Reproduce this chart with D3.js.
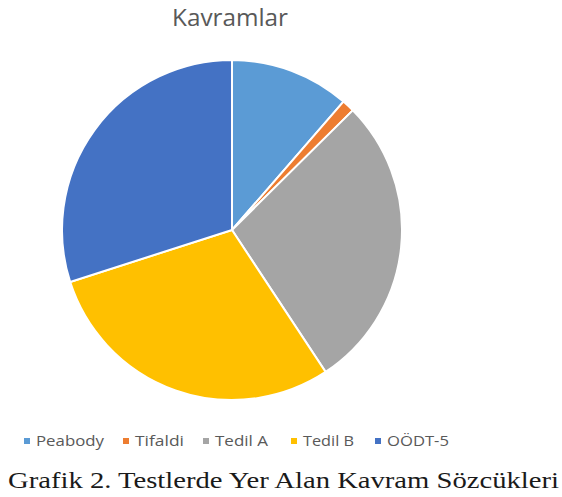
<!DOCTYPE html>
<html lang="tr">
<head>
  <meta charset="UTF-8">
  <title>Kavramlar</title>
  <script src="https://cdn.jsdelivr.net/npm/d3@7"></script>
  <style>
    body { margin: 0; background: #fff; }
  </style>
</head>
<body>
<script>
  const categories = ['Peabody', 'Tifaldi', 'Tedil A', 'Tedil B', 'OÖDT-5']
  const values = [19, 2, 47, 49, 50]
  const colors = ['#5b9bd5', '#ed7d31', '#a5a5a5', '#ffc000', '#4472c4']

  const width = 562
  const height = 497
  const cx = 232, cy = 230, radius = 170

  const color = d3.scaleOrdinal().domain(categories).range(colors)

  const pie = d3.pie().sort(null).value(d => d.value)
  const arcs = pie(categories.map((name, i) => ({name, value: values[i]})))
  const arc = d3.arc().innerRadius(0).outerRadius(radius)

  const svg = d3.select('body').append('svg')
    .attr('width', width)
    .attr('height', height)

  svg.append('text')
    .attr('x', 172)
    .attr('y', 26)
    .attr('font-family', 'Open Sans, sans-serif')
    .attr('font-size', 24)
    .attr('fill', '#595959')
    .attr('textLength', 116)
    .attr('lengthAdjust', 'spacingAndGlyphs')
    .text('Kavramlar')

  svg.append('g')
    .attr('transform', `translate(${cx},${cy})`)
    .attr('stroke', 'white')
    .attr('stroke-width', 2)
    .selectAll('path')
    .data(arcs)
    .join('path')
    .attr('fill', d => color(d.data.name))
    .attr('d', arc)

  // legend: square left edge, text width
  const legendX = [24, 123, 203, 291, 375]
  const legendW = [68, 49, 53, 51, 62]
  const legend = svg.append('g')
    .attr('font-family', 'Open Sans, sans-serif')
    .attr('font-size', 15)
    .attr('fill', '#595959')
    .selectAll('g')
    .data(categories)
    .join('g')
    .attr('transform', (d, i) => `translate(${legendX[i]},441)`)
  legend.append('rect')
    .attr('x', 0).attr('y', -3)
    .attr('width', 6).attr('height', 6)
    .attr('fill', d => color(d))
  legend.append('text')
    .attr('x', 12)
    .attr('dy', '0.35em')
    .attr('textLength', (d, i) => legendW[i])
    .attr('lengthAdjust', 'spacingAndGlyphs')
    .text(d => d)

  svg.append('text')
    .attr('x', 8)
    .attr('y', 488)
    .attr('font-family', 'Liberation Serif, serif')
    .attr('font-size', 24)
    .attr('fill', '#1a1a1a')
    .attr('textLength', 551)
    .attr('lengthAdjust', 'spacingAndGlyphs')
    .text('Grafik 2. Testlerde Yer Alan Kavram Sözcükleri')
</script>
</body>
</html>
